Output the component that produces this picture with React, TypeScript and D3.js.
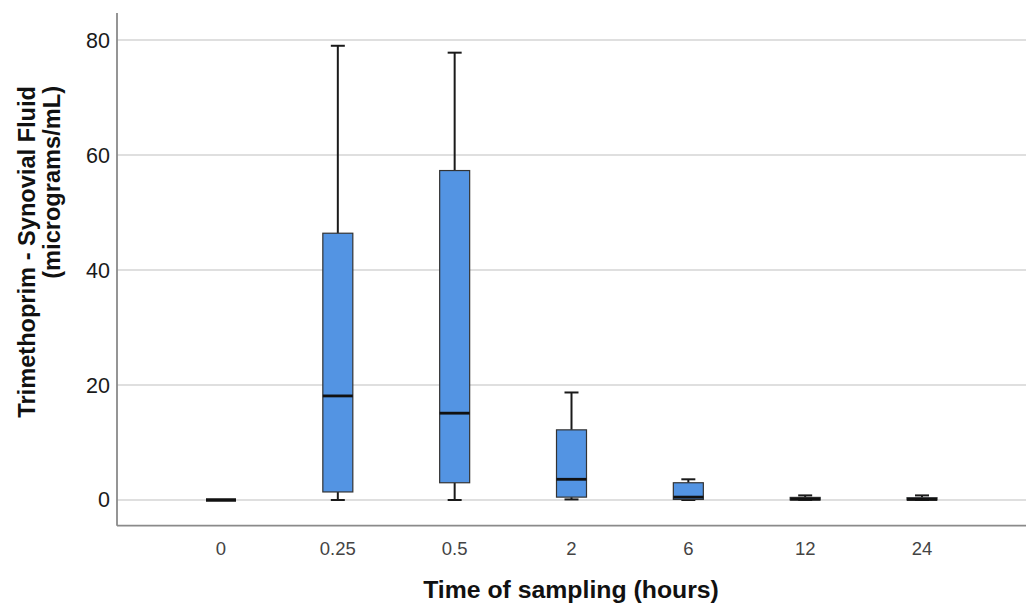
import React from "react";
import * as d3 from "d3";

const categories = ["0", "0.25", "0.5", "2", "6", "12", "24"];
const whiskerLow = [0, 0, 0, 0.1, 0, 0, 0];
const q1 = [0, 1.4, 3.0, 0.5, 0.1, 0, 0];
const median = [0, 18.1, 15.1, 3.6, 0.5, 0.15, 0.1];
const q3 = [0, 46.4, 57.3, 12.2, 3.0, 0.45, 0.4];
const whiskerHigh = [0, 79.0, 77.8, 18.7, 3.6, 0.8, 0.8];
const yTicks = [0, 20, 40, 60, 80];

const W = 1033;
const H = 606;
const plotLeft = 117;
const plotRight = 1026;
const plotTop = 13;
const plotBottom = 525.7;

export default function App() {
  const x = d3
    .scalePoint<string>()
    .domain(categories)
    .range([plotLeft, plotRight])
    .padding(0.89);
  const y = d3.scaleLinear().domain([-4.47, 84.7]).range([plotBottom, plotTop]);
  const boxW = 30;
  const capW = 14;
  const font = "Liberation Sans, Arial, sans-serif";

  return (
    <svg
      width={W}
      height={H}
      style={{ position: "absolute", left: 0, top: 0, background: "#fff" }}
      fontFamily={font}
    >
      {yTicks.map((t) => (
        <g key={t}>
          <line
            x1={plotLeft}
            x2={plotRight}
            y1={y(t)}
            y2={y(t)}
            stroke="#d4d4d4"
            strokeWidth={1.6}
          />
          <text
            x={110}
            y={y(t) + 7.5}
            textAnchor="end"
            fontSize={21.5}
            fill="#1a1a1a"
          >
            {t}
          </text>
        </g>
      ))}
      <line x1={plotLeft} x2={plotLeft} y1={plotTop} y2={plotBottom} stroke="#8a8a8a" strokeWidth={1.8} />
      <line x1={plotLeft} x2={plotRight} y1={plotBottom} y2={plotBottom} stroke="#8a8a8a" strokeWidth={1.8} />

      {categories.map((c, i) => {
        const cx = x(c)!;
        const allZero = q3[i] === 0 && whiskerHigh[i] === 0;
        if (allZero) {
          return (
            <line
              key={c}
              x1={cx - boxW / 2}
              x2={cx + boxW / 2}
              y1={y(median[i])}
              y2={y(median[i])}
              stroke="#111"
              strokeWidth={3.5}
            />
          );
        }
        return (
          <g key={c}>
            <line x1={cx} x2={cx} y1={y(q3[i])} y2={y(whiskerHigh[i])} stroke="#1a1a1a" strokeWidth={2} />
            <line x1={cx} x2={cx} y1={y(q1[i])} y2={y(whiskerLow[i])} stroke="#1a1a1a" strokeWidth={2} />
            <line x1={cx - capW / 2} x2={cx + capW / 2} y1={y(whiskerHigh[i])} y2={y(whiskerHigh[i])} stroke="#1a1a1a" strokeWidth={2} />
            <line x1={cx - capW / 2} x2={cx + capW / 2} y1={y(whiskerLow[i])} y2={y(whiskerLow[i])} stroke="#1a1a1a" strokeWidth={2} />
            <rect
              x={cx - boxW / 2}
              y={y(q3[i])}
              width={boxW}
              height={Math.max(y(q1[i]) - y(q3[i]), 2)}
              fill="#5394e3"
              stroke="#333"
              strokeWidth={1.2}
            />
            <line
              x1={cx - boxW / 2}
              x2={cx + boxW / 2}
              y1={y(median[i])}
              y2={y(median[i])}
              stroke="#111"
              strokeWidth={2.8}
            />
          </g>
        );
      })}

      {categories.map((c) => (
        <text key={c} x={x(c)!} y={555} textAnchor="middle" fontSize={18.5} fill="#444">
          {c}
        </text>
      ))}

      <text x={571} y={598} textAnchor="middle" fontSize={24.8} fontWeight="bold" fill="#111">
        Time of sampling (hours)
      </text>
      <g transform="translate(35,86) rotate(-90)">
        <text x={0} y={0} textAnchor="end" fontSize={23.6} fontWeight="bold" fill="#111">
          Trimethoprim - Synovial Fluid
        </text>
      </g>
      <g transform="translate(60,86) rotate(-90)">
        <text x={0} y={0} textAnchor="end" fontSize={23.6} fontWeight="bold" fill="#111">
          (micrograms/mL)
        </text>
      </g>
    </svg>
  );
}
